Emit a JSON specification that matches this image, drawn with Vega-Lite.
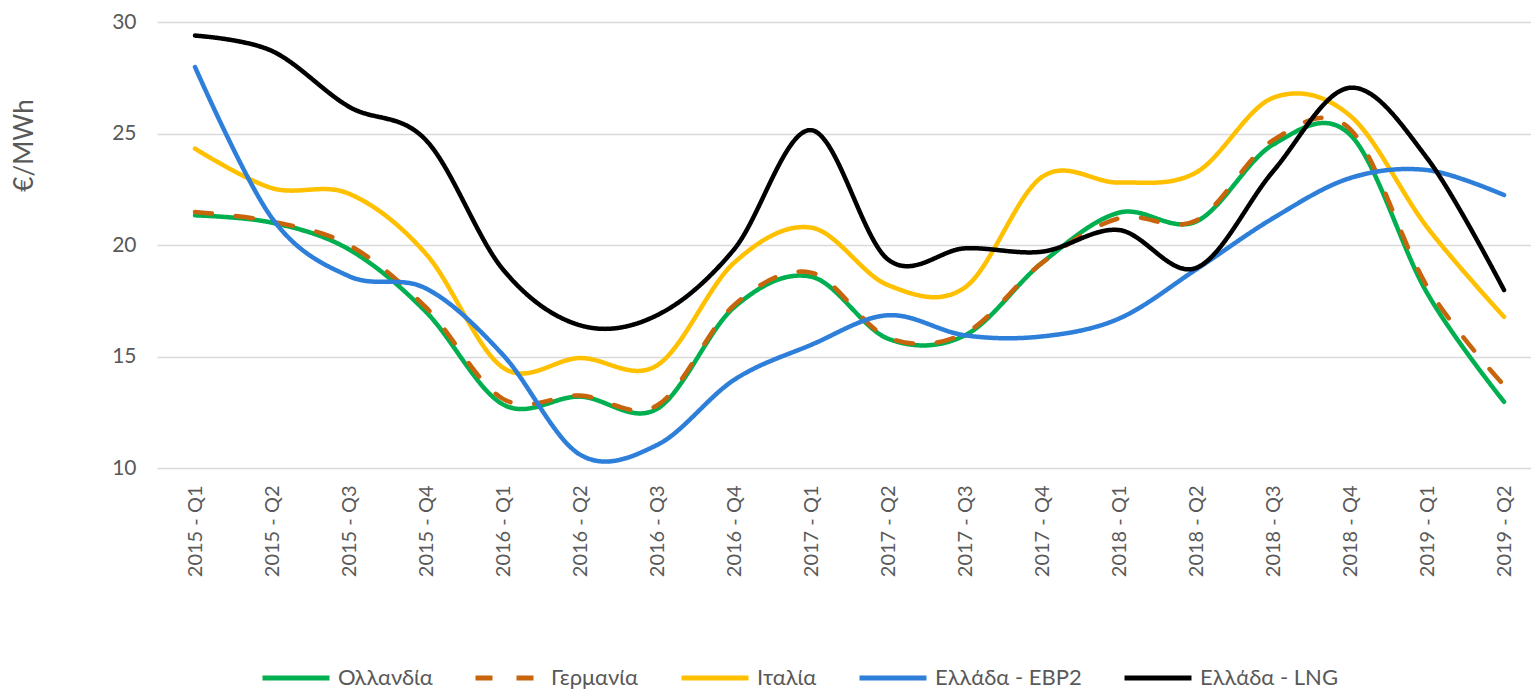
{
  "$schema": "https://vega.github.io/schema/vega-lite/v6.json",
  "width": 1374,
  "height": 446,
  "autosize": {"type": "none"},
  "padding": {"left": 157, "top": 22, "right": 0, "bottom": 222},
  "background": "white",
  "config": {
    "view": {"stroke": null},
    "font": "Lato",
    "axis": {"labelFont": "Lato", "titleFont": "Lato", "labelColor": "#595959", "titleColor": "#595959"},
    "legend": {"labelFont": "Lato"}
  },
  "data": {
    "values": [
      {"q":"2015 - Q1","s":"Ολλανδία","v":21.33},{"q":"2015 - Q2","s":"Ολλανδία","v":21.0},{"q":"2015 - Q3","s":"Ολλανδία","v":19.8},{"q":"2015 - Q4","s":"Ολλανδία","v":17.0},
      {"q":"2016 - Q1","s":"Ολλανδία","v":12.85},{"q":"2016 - Q2","s":"Ολλανδία","v":13.2},{"q":"2016 - Q3","s":"Ολλανδία","v":12.65},{"q":"2016 - Q4","s":"Ολλανδία","v":17.2},
      {"q":"2017 - Q1","s":"Ολλανδία","v":18.58},{"q":"2017 - Q2","s":"Ολλανδία","v":15.8},{"q":"2017 - Q3","s":"Ολλανδία","v":15.95},{"q":"2017 - Q4","s":"Ολλανδία","v":19.2},
      {"q":"2018 - Q1","s":"Ολλανδία","v":21.45},{"q":"2018 - Q2","s":"Ολλανδία","v":21.05},{"q":"2018 - Q3","s":"Ολλανδία","v":24.5},{"q":"2018 - Q4","s":"Ολλανδία","v":24.95},
      {"q":"2019 - Q1","s":"Ολλανδία","v":17.85},{"q":"2019 - Q2","s":"Ολλανδία","v":12.97},

      {"q":"2015 - Q1","s":"Γερμανία","v":21.48},{"q":"2015 - Q2","s":"Γερμανία","v":21.05},{"q":"2015 - Q3","s":"Γερμανία","v":20.0},{"q":"2015 - Q4","s":"Γερμανία","v":17.2},
      {"q":"2016 - Q1","s":"Γερμανία","v":13.1},{"q":"2016 - Q2","s":"Γερμανία","v":13.25},{"q":"2016 - Q3","s":"Γερμανία","v":12.8},{"q":"2016 - Q4","s":"Γερμανία","v":17.3},
      {"q":"2017 - Q1","s":"Γερμανία","v":18.76},{"q":"2017 - Q2","s":"Γερμανία","v":15.85},{"q":"2017 - Q3","s":"Γερμανία","v":16.05},{"q":"2017 - Q4","s":"Γερμανία","v":19.2},
      {"q":"2018 - Q1","s":"Γερμανία","v":21.2},{"q":"2018 - Q2","s":"Γερμανία","v":21.1},{"q":"2018 - Q3","s":"Γερμανία","v":24.7},{"q":"2018 - Q4","s":"Γερμανία","v":25.2},
      {"q":"2019 - Q1","s":"Γερμανία","v":18.15},{"q":"2019 - Q2","s":"Γερμανία","v":13.7},

      {"q":"2015 - Q1","s":"Ιταλία","v":24.32},{"q":"2015 - Q2","s":"Ιταλία","v":22.55},{"q":"2015 - Q3","s":"Ιταλία","v":22.3},{"q":"2015 - Q4","s":"Ιταλία","v":19.6},
      {"q":"2016 - Q1","s":"Ιταλία","v":14.5},{"q":"2016 - Q2","s":"Ιταλία","v":14.93},{"q":"2016 - Q3","s":"Ιταλία","v":14.6},{"q":"2016 - Q4","s":"Ιταλία","v":19.2},
      {"q":"2017 - Q1","s":"Ιταλία","v":20.78},{"q":"2017 - Q2","s":"Ιταλία","v":18.2},{"q":"2017 - Q3","s":"Ιταλία","v":18.1},{"q":"2017 - Q4","s":"Ιταλία","v":23.05},
      {"q":"2018 - Q1","s":"Ιταλία","v":22.8},{"q":"2018 - Q2","s":"Ιταλία","v":23.25},{"q":"2018 - Q3","s":"Ιταλία","v":26.6},{"q":"2018 - Q4","s":"Ιταλία","v":25.8},
      {"q":"2019 - Q1","s":"Ιταλία","v":20.8},{"q":"2019 - Q2","s":"Ιταλία","v":16.78},

      {"q":"2015 - Q1","s":"Ελλάδα - EBP2","v":27.98},{"q":"2015 - Q2","s":"Ελλάδα - EBP2","v":21.2},{"q":"2015 - Q3","s":"Ελλάδα - EBP2","v":18.6},{"q":"2015 - Q4","s":"Ελλάδα - EBP2","v":18.05},
      {"q":"2016 - Q1","s":"Ελλάδα - EBP2","v":15.07},{"q":"2016 - Q2","s":"Ελλάδα - EBP2","v":10.6},{"q":"2016 - Q3","s":"Ελλάδα - EBP2","v":11.03},{"q":"2016 - Q4","s":"Ελλάδα - EBP2","v":13.95},
      {"q":"2017 - Q1","s":"Ελλάδα - EBP2","v":15.52},{"q":"2017 - Q2","s":"Ελλάδα - EBP2","v":16.85},{"q":"2017 - Q3","s":"Ελλάδα - EBP2","v":15.95},{"q":"2017 - Q4","s":"Ελλάδα - EBP2","v":15.9},
      {"q":"2018 - Q1","s":"Ελλάδα - EBP2","v":16.7},{"q":"2018 - Q2","s":"Ελλάδα - EBP2","v":18.9},{"q":"2018 - Q3","s":"Ελλάδα - EBP2","v":21.2},{"q":"2018 - Q4","s":"Ελλάδα - EBP2","v":23.0},
      {"q":"2019 - Q1","s":"Ελλάδα - EBP2","v":23.36},{"q":"2019 - Q2","s":"Ελλάδα - EBP2","v":22.24},

      {"q":"2015 - Q1","s":"Ελλάδα - LNG","v":29.39},{"q":"2015 - Q2","s":"Ελλάδα - LNG","v":28.7},{"q":"2015 - Q3","s":"Ελλάδα - LNG","v":26.2},{"q":"2015 - Q4","s":"Ελλάδα - LNG","v":24.7},
      {"q":"2016 - Q1","s":"Ελλάδα - LNG","v":18.9},{"q":"2016 - Q2","s":"Ελλάδα - LNG","v":16.4},{"q":"2016 - Q3","s":"Ελλάδα - LNG","v":16.85},{"q":"2016 - Q4","s":"Ελλάδα - LNG","v":19.8},
      {"q":"2017 - Q1","s":"Ελλάδα - LNG","v":25.15},{"q":"2017 - Q2","s":"Ελλάδα - LNG","v":19.35},{"q":"2017 - Q3","s":"Ελλάδα - LNG","v":19.85},{"q":"2017 - Q4","s":"Ελλάδα - LNG","v":19.7},
      {"q":"2018 - Q1","s":"Ελλάδα - LNG","v":20.67},{"q":"2018 - Q2","s":"Ελλάδα - LNG","v":18.97},{"q":"2018 - Q3","s":"Ελλάδα - LNG","v":23.3},{"q":"2018 - Q4","s":"Ελλάδα - LNG","v":27.05},
      {"q":"2019 - Q1","s":"Ελλάδα - LNG","v":23.9},{"q":"2019 - Q2","s":"Ελλάδα - LNG","v":17.98}
    ]
  },
  "mark": {"type": "line", "interpolate": "cardinal", "strokeWidth": 4.5, "strokeCap": "round", "strokeJoin": "round"},
  "encoding": {
    "x": {
      "field": "q", "type": "ordinal", "sort": null,
      "scale": {"type": "point", "padding": 0.422, "align": 0.585},
      "axis": {"title": null, "labelAngle": -90, "labelFontSize": 20, "labelPadding": 17, "domain": false, "ticks": false, "grid": false, "labelBaseline": "middle", "labelAlign": "right"}
    },
    "y": {
      "field": "v", "type": "quantitative",
      "scale": {"domain": [10, 30], "nice": false, "zero": false},
      "axis": {"values": [10, 15, 20, 25, 30], "title": "€/MWh", "titleFontSize": 26, "titleFontWeight": "normal", "titleAngle": -90, "titleX": -133, "titleY": 123, "titleAlign": "center", "titleBaseline": "middle",
               "labelFontSize": 21, "labelPadding": 21, "domain": false, "ticks": false, "gridColor": "#D9D9D9", "gridWidth": 1.5}
    },
    "color": {
      "field": "s", "type": "nominal", "sort": null,
      "scale": {"domain": ["Ολλανδία", "Γερμανία", "Ιταλία", "Ελλάδα - EBP2", "Ελλάδα - LNG"], "range": ["#00B050", "#C8640C", "#FFC000", "#2E7FD9", "#000000"]},
      "legend": {"title": null, "orient": "none", "legendX": 103, "legendY": 620, "direction": "horizontal", "columns": 5, "symbolType": "stroke", "symbolSize": 4489, "symbolStrokeWidth": 5, "labelFontSize": 22, "labelColor": "#595959", "labelOffset": 6, "columnPadding": 32}
    },
    "strokeDash": {
      "field": "s", "type": "nominal", "sort": null,
      "scale": {"domain": ["Ολλανδία", "Γερμανία", "Ιταλία", "Ελλάδα - EBP2", "Ελλάδα - LNG"], "range": [[1, 0], [17, 24], [1, 0], [1, 0], [1, 0]]},
      "legend": {"title": null, "orient": "none", "legendX": 103, "legendY": 620, "direction": "horizontal", "columns": 5, "symbolType": "stroke", "symbolSize": 4489, "symbolStrokeWidth": 5, "labelFontSize": 22, "labelColor": "#595959", "labelOffset": 6, "columnPadding": 32}
    }
  }
}
